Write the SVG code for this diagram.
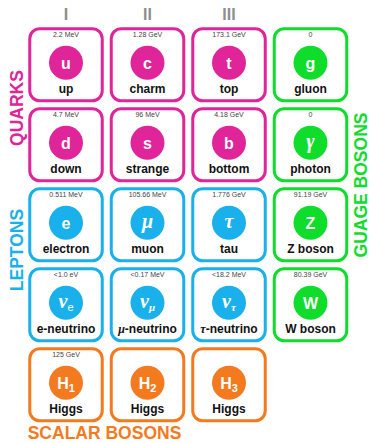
<svg xmlns="http://www.w3.org/2000/svg" width="371" height="443" viewBox="0 0 371 443">
  <style>
    .card { fill: #fff; stroke-width: 3; }
    .mass { font-family: "Liberation Sans", Arial, sans-serif; font-size: 7px; fill: #444; text-anchor: middle; }
    .name { font-family: "Liberation Sans", Arial, sans-serif; font-size: 12px; font-weight: bold; fill: #111; text-anchor: middle; }
    .sym { font-family: "Liberation Sans", Arial, sans-serif; font-size: 16px; font-weight: bold; fill: #fff; text-anchor: middle; }
    .gk { font-family: "Liberation Serif", "Times New Roman", serif; font-style: italic; font-weight: bold; font-size: 20px; fill: #fff; text-anchor: middle; }
    .gi { font-family: "Liberation Serif", "Times New Roman", serif; font-style: italic; font-weight: bold; }
    .sub { font-size: 11px; }
    .gen { font-family: "Liberation Sans", Arial, sans-serif; font-size: 16px; font-weight: bold; fill: #8e8e8e; text-anchor: middle; }
    .side { font-family: "Liberation Sans", Arial, sans-serif; font-size: 17.5px; font-weight: bold; text-anchor: middle; }
    .q .card { stroke: #e0249a; } .q circle { fill: #e0249a; }
    .l .card { stroke: #19b0eb; } .l circle { fill: #19b0eb; }
    .b .card { stroke: #10dc2c; } .b circle { fill: #10dc2c; }
    .h .card { stroke: #f47a20; } .h circle { fill: #f47a20; }
  </style>

  <!-- generation headers -->
  <g id="generations">
    <text class="gen" x="66" y="20">I</text>
    <text class="gen" x="147.5" y="20">II</text>
    <text class="gen" x="229" y="20">III</text>
  </g>

  <!-- group labels -->
  <g id="labels">
    <text class="side" fill="#e0249a" transform="translate(22.5 108) rotate(-90)">QUARKS</text>
    <text class="side" fill="#19b0eb" transform="translate(22.5 250) rotate(-90)">LEPTONS</text>
    <text class="side" fill="#10dc2c" transform="translate(367 185) rotate(-90)">GUAGE BOSONS</text>
    <text class="side" fill="#f47a20" x="104.5" y="439">SCALAR BOSONS</text>
  </g>

  <!-- row 1 -->
  <g id="up" class="q">
    <rect class="card" x="29.75" y="28.75" width="72.5" height="72" rx="10"/>
    <text class="mass" x="66" y="37">2.2 MeV</text>
    <circle cx="66" cy="62.75" r="17"/>
    <text class="sym" x="66" y="68.5">u</text>
    <text class="name" x="66" y="92.75">up</text>
  </g>
  <g id="charm" class="q">
    <rect class="card" x="111.25" y="28.75" width="72.5" height="72" rx="10"/>
    <text class="mass" x="147.5" y="37">1.28 GeV</text>
    <circle cx="147.5" cy="62.75" r="17"/>
    <text class="sym" x="147.5" y="68.5">c</text>
    <text class="name" x="147.5" y="92.75">charm</text>
  </g>
  <g id="top" class="q">
    <rect class="card" x="192.75" y="28.75" width="72.5" height="72" rx="10"/>
    <text class="mass" x="229" y="37">173.1 GeV</text>
    <circle cx="229" cy="62.75" r="17"/>
    <text class="sym" x="229" y="68.5">t</text>
    <text class="name" x="229" y="92.75">top</text>
  </g>
  <g id="gluon" class="b">
    <rect class="card" x="274.25" y="28.75" width="72.5" height="72" rx="10"/>
    <text class="mass" x="310.5" y="37">0</text>
    <circle cx="310.5" cy="62.75" r="17"/>
    <text class="sym" x="310.5" y="68.5">g</text>
    <text class="name" x="310.5" y="92.75">gluon</text>
  </g>

  <!-- row 2 -->
  <g id="down" class="q">
    <rect class="card" x="29.75" y="108.75" width="72.5" height="72" rx="10"/>
    <text class="mass" x="66" y="117">4.7 MeV</text>
    <circle cx="66" cy="142.75" r="17"/>
    <text class="sym" x="66" y="148.5">d</text>
    <text class="name" x="66" y="172.75">down</text>
  </g>
  <g id="strange" class="q">
    <rect class="card" x="111.25" y="108.75" width="72.5" height="72" rx="10"/>
    <text class="mass" x="147.5" y="117">96 MeV</text>
    <circle cx="147.5" cy="142.75" r="17"/>
    <text class="sym" x="147.5" y="148.5">s</text>
    <text class="name" x="147.5" y="172.75">strange</text>
  </g>
  <g id="bottom" class="q">
    <rect class="card" x="192.75" y="108.75" width="72.5" height="72" rx="10"/>
    <text class="mass" x="229" y="117">4.18 GeV</text>
    <circle cx="229" cy="142.75" r="17"/>
    <text class="sym" x="229" y="148.5">b</text>
    <text class="name" x="229" y="172.75">bottom</text>
  </g>
  <g id="photon" class="b">
    <rect class="card" x="274.25" y="108.75" width="72.5" height="72" rx="10"/>
    <text class="mass" x="310.5" y="117">0</text>
    <circle cx="310.5" cy="142.75" r="17"/>
    <text class="gk" x="310.5" y="147.5">γ</text>
    <text class="name" x="310.5" y="172.75">photon</text>
  </g>

  <!-- row 3 -->
  <g id="electron" class="l">
    <rect class="card" x="29.75" y="188.75" width="72.5" height="72" rx="10"/>
    <text class="mass" x="66" y="197">0.511 MeV</text>
    <circle cx="66" cy="222.75" r="17"/>
    <text class="sym" x="66" y="228.5">e</text>
    <text class="name" x="66" y="252.75">electron</text>
  </g>
  <g id="muon" class="l">
    <rect class="card" x="111.25" y="188.75" width="72.5" height="72" rx="10"/>
    <text class="mass" x="147.5" y="197">105.66 MeV</text>
    <circle cx="147.5" cy="222.75" r="17"/>
    <text class="gk" x="147.5" y="227.5">μ</text>
    <text class="name" x="147.5" y="252.75">muon</text>
  </g>
  <g id="tau" class="l">
    <rect class="card" x="192.75" y="188.75" width="72.5" height="72" rx="10"/>
    <text class="mass" x="229" y="197">1.776 GeV</text>
    <circle cx="229" cy="222.75" r="17"/>
    <text class="gk" x="229" y="227.5">τ</text>
    <text class="name" x="229" y="252.75">tau</text>
  </g>
  <g id="z-boson" class="b">
    <rect class="card" x="274.25" y="188.75" width="72.5" height="72" rx="10"/>
    <text class="mass" x="310.5" y="197">91.19 GeV</text>
    <circle cx="310.5" cy="222.75" r="17"/>
    <text class="sym" x="310.5" y="228.5">Z</text>
    <text class="name" x="310.5" y="252.75">Z boson</text>
  </g>

  <!-- row 4 -->
  <g id="e-neutrino" class="l">
    <rect class="card" x="29.75" y="268.75" width="72.5" height="72" rx="10"/>
    <text class="mass" x="66" y="277">&lt;1.0 eV</text>
    <circle cx="66" cy="302.75" r="17"/>
    <text class="gk" x="66" y="307.5">ν<tspan class="sub" font-family="Liberation Sans, Arial, sans-serif" font-style="normal" font-weight="normal" dy="3">e</tspan></text>
    <text class="name" x="66" y="332.75">e-neutrino</text>
  </g>
  <g id="mu-neutrino" class="l">
    <rect class="card" x="111.25" y="268.75" width="72.5" height="72" rx="10"/>
    <text class="mass" x="147.5" y="277">&lt;0.17 MeV</text>
    <circle cx="147.5" cy="302.75" r="17"/>
    <text class="gk" x="147.5" y="307.5">ν<tspan class="sub" dy="3">μ</tspan></text>
    <text class="name" x="147.5" y="332.75"><tspan class="gi">μ</tspan>-neutrino</text>
  </g>
  <g id="tau-neutrino" class="l">
    <rect class="card" x="192.75" y="268.75" width="72.5" height="72" rx="10"/>
    <text class="mass" x="229" y="277">&lt;18.2 MeV</text>
    <circle cx="229" cy="302.75" r="17"/>
    <text class="gk" x="229" y="307.5">ν<tspan class="sub" dy="3">τ</tspan></text>
    <text class="name" x="229" y="332.75"><tspan class="gi">τ</tspan>-neutrino</text>
  </g>
  <g id="w-boson" class="b">
    <rect class="card" x="274.25" y="268.75" width="72.5" height="72" rx="10"/>
    <text class="mass" x="310.5" y="277">80.39 GeV</text>
    <circle cx="310.5" cy="302.75" r="17"/>
    <text class="sym" x="310.5" y="308.5">W</text>
    <text class="name" x="310.5" y="332.75">W boson</text>
  </g>

  <!-- row 5 -->
  <g id="higgs-1" class="h">
    <rect class="card" x="29.75" y="348.75" width="72.5" height="72" rx="10"/>
    <text class="mass" x="66" y="357">125 GeV</text>
    <circle cx="66" cy="382.75" r="17"/>
    <text class="sym" x="66" y="388.5">H<tspan class="sub" dy="3">1</tspan></text>
    <text class="name" x="66" y="412.75">Higgs</text>
  </g>
  <g id="higgs-2" class="h">
    <rect class="card" x="111.25" y="348.75" width="72.5" height="72" rx="10"/>
    <circle cx="147.5" cy="382.75" r="17"/>
    <text class="sym" x="147.5" y="388.5">H<tspan class="sub" dy="3">2</tspan></text>
    <text class="name" x="147.5" y="412.75">Higgs</text>
  </g>
  <g id="higgs-3" class="h">
    <rect class="card" x="192.75" y="348.75" width="72.5" height="72" rx="10"/>
    <circle cx="229" cy="382.75" r="17"/>
    <text class="sym" x="229" y="388.5">H<tspan class="sub" dy="3">3</tspan></text>
    <text class="name" x="229" y="412.75">Higgs</text>
  </g>
</svg>
